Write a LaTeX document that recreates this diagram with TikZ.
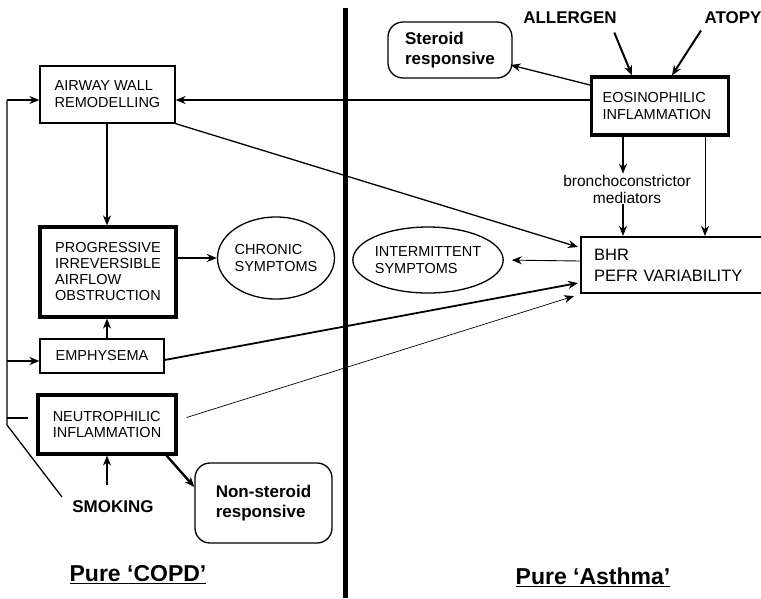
\documentclass[tikz,border=0pt]{standalone}
\usepackage{fontspec}
\setmainfont{Liberation Sans}
\usetikzlibrary{shapes.geometric, positioning, arrows.meta, calc}
\tikzset{
    every edge/.style={ % Sets the properties for each connector
        draw,
        -{Stealth[length=10pt,width=8pt]}, % filled heads
        line width=1.3pt
    },
    box/.style={ % plain boxes
        draw, line width=1.3pt,
        align=left, inner sep=0pt,
        font=\fontsize{14.5}{17}\selectfont
    },
    heavybox/.style={box, line width=3.2pt},
    roundbox/.style={box, rounded corners=15pt, font=\bfseries\fontsize{17}{20}\selectfont},
    oval/.style={ % symptom ellipses
        ellipse, draw, line width=1.3pt,
        inner sep=0pt, align=left,
        font=\fontsize{14.5}{17}\selectfont
    },
    cause/.style={font=\bfseries\fontsize{17}{20}\selectfont},
    heading/.style={font=\bfseries\fontsize{23}{26}\selectfont}
}

\begin{document}
\begin{tikzpicture}[x=1pt, y=-1pt] % one unit per pixel, y running down
            \useasboundingbox (0,0) rectangle (761,598);
            % COPD side
            \node[box, minimum width=135pt, minimum height=57pt]       (awr) at (107.5,94.5) {AIRWAY WALL\\REMODELLING};
            \node[heavybox, minimum width=136pt, minimum height=90pt,
                  font=\fontsize{14.5}{16}\selectfont]                 (pao) at (108,272)    {PROGRESSIVE\\IRREVERSIBLE\\AIRFLOW\\OBSTRUCTION};
            \node[oval, minimum width=115pt, minimum height=82pt]      (chs) at (276,258)    {CHRONIC\\SYMPTOMS};
            \node[box, minimum width=124pt, minimum height=34pt]       (emp) at (102,356)    {EMPHYSEMA};
            \node[heavybox, minimum width=138pt, minimum height=59pt]  (neu) at (107,424.5)  {NEUTROPHILIC\\INFLAMMATION};
            \node[cause]                                               (smk) at (113,507)    {SMOKING};
            \node[roundbox, minimum width=137pt, minimum height=80pt]  (nsr) at (263.5,503)  {Non-steroid\\responsive};
            \node[heading]                                             (cop) at (138,575)    {\underline{Pure `COPD'}};
            % asthma side
            \node[cause]                                               (alg) at (570,18)     {ALLERGEN};
            \node[cause]                                               (atp) at (733,18)     {ATOPY};
            \node[roundbox, minimum width=124pt, minimum height=56pt]  (srs) at (450,50)     {Steroid\\responsive};
            \node[heavybox, anchor=west, minimum width=137pt, minimum height=58pt,
                  text width=115pt, inner xsep=7pt]                    (eos) at (590,106)    {EOSINOPHILIC\\INFLAMMATION};
            \node[align=center, inner sep=1pt,
                  font=\fontsize{15.5}{17}\selectfont]                 (bcm) at (627,189)    {bronchoconstrictor\\mediators};
            \node[box, line width=2.2pt, anchor=west, minimum height=56pt, text width=155pt,
                  inner xsep=13pt, font=\fontsize{16.5}{21}\selectfont] (bhr) at (580,265)   {BHR\\PEFR VARIABILITY};
            \node[oval, minimum width=147pt, minimum height=66pt]      (ims) at (428,260)    {INTERMITTENT\\SYMPTOMS};
            \node[heading]                                             (ast) at (593,577)    {\underline{Pure `Asthma'}};
            % dividing bar
            \draw[line width=5pt] (345,8) -- (345,598);
            % smoking feedback rail
            \coordinate (fb)  at (62,497);
            \coordinate (rlb) at (7,425);
            \coordinate (rlt) at (7,100);
            \draw[line width=1.3pt] (fb) -- (rlb) -- (rlt);
            \draw   (rlt) edge (awr.west |- rlt)
                    (rlt |- 0,361) edge (emp.west |- 0,361)
            ;
            \draw[line width=1.3pt] (rlt |- 0,418) -- (28,418);
            % COPD links
            \draw   (awr.south -| 107,0) edge (pao.north -| 107,0)
                    (pao.east |- chs.west) edge (chs.west)
                    (emp.north -| 107,0) edge (pao.south -| 107,0)
                    ($(smk.north -| neu.south)+(0,-12)$) edge (neu.south)
                    ($(neu.south east)+(-11,0)$) edge[line width=2.4pt] ($(nsr.west)+(0,-16)$)
            ;
            % asthma links
            \coordinate (med) at ($(eos.south west)+(33,0)$);
            \coordinate (thn) at ($(eos.south west)+(115,0)$);
            \draw   ($(alg.south east)+(-6,5)$) edge[line width=2pt] ($(eos.north west)+(42,0)$)
                    ($(atp.south west)+(0,3)$) edge[line width=2pt] ($(eos.north west)+(82,0)$)
                    ($(eos.west)+(0,-21)$) edge ($(srs.east)+(-2,15)$)
                    (eos.west |- rlt) edge (awr.east |- rlt)
                    (med) edge (bcm.north -| med)
                    (bcm.south -| med) edge (bhr.north -| med)
                    (thn) edge[line width=0.9pt] (bhr.north -| thn)
                    ($(bhr.west)+(0,-4)$) edge[line width=0.9pt, shorten >=8pt] (ims.east)
            ;
            % cross-over links
            \draw   (awr.south east) edge ($(bhr.west)+(-2,-18)$)
                    ($(emp.east)+(0,4)$) edge[line width=1.8pt] ($(bhr.west)+(-2,18)$)
                    ($(neu.east)+(9,-7)$) edge[line width=0.7pt] ($(bhr.south west)+(-6,2)$)
            ;
        \end{tikzpicture}
\end{document}
